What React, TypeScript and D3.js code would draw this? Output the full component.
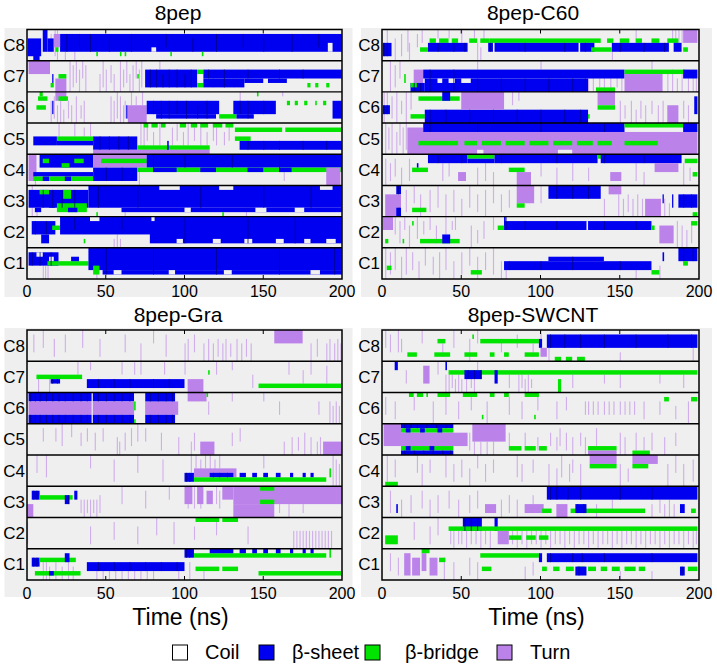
import React from 'react';
import * as d3 from 'd3';

type Seg = [number, number, number, number, string];
type Flick = [number, number, number];
type Streak = [number, number, number, number];

const timeTicks = [0, 50, 100, 150, 200];
const chainLabels = ['C8', 'C7', 'C6', 'C5', 'C4', 'C3', 'C2', 'C1'];
const panelTitles = ['8pep', '8pep-C60', '8pep-Gra', '8pep-SWCNT'];
const legendLabels = ['Coil', 'β-sheet', 'β-bridge', 'Turn'];
const legendStates = ['C', 'E', 'B', 'T'];
const LANES = 7;

// ---------- 8pep ----------
const pep8Segs: Seg[][] = [
  [[21,200,1,4,'E'],[0.5,9,2,5,'E'],[4,8,5,6,'E'],[10,13,0,4,'E'],[13,17,2,4,'E'],[17,21,1,3,'T'],[79,82,4,4,'C'],[191,194,3,4,'C'],
   [18,20,4,4,'B'],[44,45,5,5,'B'],[59,60,5,5,'B'],[62,63,5,5,'B'],[91,92,5,5,'B'],[111,112,5,5,'B']],
  [[1,14.6,0,2,'T'],[18,25,4,6,'T'],[20,25,3,3,'B'],[15,17,5,5,'B'],[16,16.8,3,4,'E'],[75,108,2,5,'E'],[108,112,2,2,'B'],[108,112,5,5,'B'],
   [112,200,2,3,'E'],[112,138,4,5,'E'],[138,150,4,4,'E'],[153,165,4,4,'E'],[70,71,3,3,'B'],[178,180,5,5,'B'],[183,185,5,5,'B'],[190,192,5,5,'B']],
  [[7,13,1,1,'B'],[8,10,0,0,'B'],[6,12,3,3,'B'],[18,25,0,1,'T'],[20,26,1,1,'B'],[16,16.8,2,4,'E'],[64,76,3,6,'T'],[63,63.8,3,5,'E'],
   [76,122,2,4,'E'],[82,120,5,5,'E'],[122,133,5,5,'B'],[131,158,2,4,'E'],[133,144,5,5,'E'],[165,167,2,2,'B'],[170,172,2,2,'B'],
   [176,178,2,2,'B'],[183,184,2,2,'B'],[188,190,2,2,'B'],[194,200,2,5,'E'],[146,147,0,0,'B']],
  [[4,19,3,4,'E'],[19,42,3,3,'B'],[19,42,4,4,'E'],[42,70,3,5,'E'],[70,116,5,5,'B'],[42,116,6,6,'T'],[89,90,4,5,'E'],
   [74,77,0,0,'B'],[79,83,0,0,'B'],[85,88,0,0,'B'],[97,101,0,0,'B'],[104,108,0,0,'B'],[110,115,0,0,'B'],[118,124,0,0,'B'],[126,131,0,0,'B'],
   [132,162,1,1,'B'],[164,200,1,1,'B'],[135,200,4,5,'E'],[132,142,3,3,'B']],
  [[1,6,0,5,'T'],[8,42,0,2,'E'],[10,14,1,1,'B'],[22,27,2,2,'B'],[30,36,1,1,'B'],[4,42,4,4,'E'],[4,42,5,5,'B'],[10,14,5,5,'E'],[24,28,5,5,'E'],
   [42,76,0,2,'T'],[47,76,1,1,'B'],[42,70,3,5,'E'],[76,200,0,2,'E'],[70,200,3,3,'B'],[80,95,3,3,'E'],[110,120,3,3,'E'],[140,150,3,3,'E'],
   [160,168,3,3,'E'],[190,199,3,6,'T']],
  [[1,39,1,4,'E'],[8,14,1,1,'B'],[23,28,1,2,'B'],[19,38,4,5,'B'],[5,9,5,5,'E'],[14,18,4,4,'E'],[26,32,5,5,'E'],[39,200,0,4,'E'],[60,200,5,5,'E'],
   [84,97,0,0,'C'],[122,131,0,0,'C'],[186,194,0,0,'C'],[100,104,5,5,'C'],[145,152,5,5,'C'],[170,176,5,5,'C'],[44,45,6,6,'B'],[124,125,6,6,'B']],
  [[3,18,1,3,'E'],[9,14,4,5,'E'],[16,21,2,2,'B'],[21,200,0,2,'E'],[21,80,3,3,'E'],[78,200,3,5,'E'],[40,46,0,0,'C'],[79,81,0,0,'C'],
   [95,99,5,5,'C'],[118,123,5,5,'C'],[138,143,5,5,'C'],[158,163,5,5,'C'],[176,180,5,5,'C'],[190,196,5,5,'C'],[36,37,5,5,'B']],
  [[1,20,1,3,'E'],[6,10,1,1,'C'],[14,17,2,2,'C'],[13,20,3,3,'B'],[20,39,3,3,'B'],[28,33,2,2,'E'],[39,200,0,4,'E'],[48,200,5,5,'E'],
   [42,46,4,5,'B'],[55,60,5,5,'C'],[90,94,5,5,'C'],[125,130,5,5,'C'],[180,186,5,5,'C']],
];
const pep8Flicks: Flick[][] = [
  [[15,1,4],[17.5,0,5],[19,0,6],[24,5,6],[30,5,6]],
  [[27,0,6],[29,1,5],[31,0,4],[33,2,6],[35,0,3],[37,1,6],[46,3,6],[48,0,5],[50,2,6],[53,1,4],[55,3,6],[59,0,6],[61,2,5],[63,0,4],
   [65,3,6],[67,1,6],[69,0,3],[71,2,6],[72.5,0,5],[84,0,1],[118,4,5],[131,4,5]],
  [[15,2,6],[17,1,5],[19,3,6],[21,2,6],[23,4,6],[26,2,5],[28,3,6],[31,1,6],[34,3,5],[36,2,6],[53,1,6],[55,2,6],[57,0,5],[59,1,6],
   [61,3,6],[62,2,5],[66,0,2],[69,1,2],[73,0,2],[135,0,1],[162,0,0]],
  [[72,0,4],[74,1,5],[76,0,3],[80,2,4],[84,0,4],[92,1,4],[95,0,3],[99,2,4],[102,0,4],[106,1,3],[110,0,4],[114,2,4],[118,0,3],[120,1,4],
   [125,2,4],[128,0,3],[20,0,2],[30,0,2],[36,1,2],[40,0,2]],
  [[71,4,6],[163,4,5],[5,6,6]],
  [[62,5,6],[139,5,6],[3,0,6],[6,5,6]],
  [[41,0,2],[43,0,2],[45,0,1],[55,5,6],[57,4,6],[59,5,6]],
  [[10,3,6],[11.5,4,6],[13,3,6],[44,5,6]],
];
const pep8Streaks: Streak[] = [
  [0,25,1,4],[0,33,1,3],[0,40,1,4],[0,52,2,4],[0,66,1,4],[0,88,1,3],[0,105,2,4],[0,120,1,4],[0,137,1,3],[0,150,2,4],[0,168,1,4],[0,185,1,3],
  [1,78,2,5],[1,82,2,5],[1,86,3,5],[1,90,2,5],[1,95,2,5],[1,100,3,5],[1,104,2,5],[1,115,2,3],[1,125,2,5],[1,140,2,3],[1,160,2,3],[1,175,2,3],
  [2,80,2,4],[2,85,2,5],[2,90,2,5],[2,95,2,4],[2,101,2,5],[2,108,3,5],[2,114,2,5],[2,135,2,4],[2,140,2,5],[2,150,2,4],
  [3,46,3,5],[3,52,3,5],[3,58,3,5],[3,64,3,5],[3,140,4,5],[3,150,4,5],[3,160,4,5],[3,175,4,5],[3,190,4,5],
  [4,50,3,5],[4,60,3,5],[4,80,0,2],[4,100,0,2],[4,130,0,2],[4,160,0,2],
  [5,10,1,4],[5,16,1,4],[5,22,1,4],[5,30,1,4],[5,45,0,4],[5,70,0,4],[5,110,0,4],[5,150,0,4],[5,180,0,4],
  [6,5,1,3],[6,12,1,3],[6,30,0,2],[6,60,0,2],[6,100,0,5],[6,140,0,5],[6,170,0,5],
  [7,3,1,3],[7,8,1,3],[7,15,1,3],[7,50,0,5],[7,80,0,5],[7,120,0,5],[7,160,0,5],[7,195,0,5],
];

// ---------- 8pep-C60 ----------
const c60Segs: Seg[][] = [
  [[0.5,6,3,5,'E'],[30,34,2,2,'B'],[36,42,2,2,'B'],[44,48,2,2,'B'],[55,60,2,2,'B'],[62,68,2,2,'B'],[68,138,2,2,'B'],[142,146,2,2,'B'],
   [150,156,2,2,'B'],[160,164,2,2,'B'],[170,175,2,2,'B'],[180,187,2,2,'B'],[29,54,3,4,'E'],[24,29,4,4,'B'],[67,70,3,4,'E'],[71,124,3,4,'E'],
   [125,134,3,4,'E'],[145,181,3,4,'E'],[184,189,3,4,'E'],[132,145,4,4,'B'],[190,193,4,4,'B'],[190,199,0,2,'T']],
  [[20,26,2,4,'T'],[14,15,3,4,'B'],[18,27,5,6,'E'],[18,22,5,5,'B'],[26,153,2,3,'E'],[27,130,4,6,'E'],[35,38,4,4,'C'],[42,46,4,4,'C'],
   [50,56,4,4,'C'],[153,191,2,2,'B'],[153,177,3,6,'T'],[135,147,6,6,'B'],[190,199,2,3,'E']],
  [[23,49,1,1,'B'],[38,43,0,1,'E'],[0.5,5,3,4,'E'],[18,27,5,5,'B'],[27,130,4,6,'E'],[50,77,0,3,'T'],[136,147,0,2,'T'],[136,147,3,3,'B'],
   [180,187,3,6,'T'],[197,199,1,4,'E'],[130,131,5,5,'B']],
  [[16,199,2,6,'T'],[16,26,1,1,'T'],[26,153,0,1,'E'],[23,48,4,4,'B'],[52,60,4,4,'B'],[63,75,4,4,'B'],[78,90,4,4,'B'],[93,105,4,4,'B'],
   [108,120,4,4,'B'],[123,133,4,4,'B'],[136,145,4,4,'B'],[153,174,4,4,'B'],[153,191,0,0,'B'],[190,199,0,1,'E'],[111,120,6,6,'C'],[60,64,6,6,'C']],
  [[29,54,0,1,'E'],[54,71,0,0,'B'],[54,71,1,1,'E'],[71,136,0,1,'E'],[136,140,0,0,'B'],[138,189,0,1,'E'],[191,199,1,1,'B'],[19,29,3,3,'B'],
   [80,90,3,3,'B'],[196,199,4,4,'B'],[48,53,4,5,'T'],[85,94,4,6,'T'],[144,151,4,5,'T'],[172,187,2,3,'T'],[22,23,2,2,'E']],
  [[9,12,0,1,'E'],[2,12,2,6,'T'],[9,12,5,6,'E'],[19,28,5,5,'B'],[85,96,0,3,'T'],[85,90,4,4,'B'],[105,138,0,2,'E'],[143,151,0,1,'T'],
   [166,176,3,6,'T'],[187,199,2,4,'E'],[177,177.8,2,3,'E'],[183,183.8,2,4,'E'],[196,199,6,6,'B']],
  [[0.5,7,0,2,'T'],[24,49,5,5,'B'],[38,43,4,5,'E'],[77,170,1,2,'E'],[129,130,1,2,'C'],[73,77,2,2,'B'],[170,172,2,2,'B'],[77,78,0,1,'E'],
   [175,184,2,5,'T'],[195,199,1,1,'B'],[19,20,1,1,'B'],[13,14,5,5,'B'],[2,4,5,5,'B']],
  [[77,170,3,4,'E'],[105,140,2,2,'E'],[56,63,5,5,'B'],[170,175,5,5,'B'],[187,199,0,2,'E'],[3,6,4,4,'B'],[177,178,1,2,'E'],[190,193,3,3,'B']],
];
const c60Flicks: Flick[][] = [
  [[3,0,4],[8,2,6],[12,1,5],[16,0,4],[17,3,6],[22,1,3],[25,0,2],[35,0,1],[42,0,1],[50,0,2],[58,0,1],[60,3,6],[62,4,6],[64,0,2],
   [183,0,2],[185,0,2],[187,0,2],[189,0,2],[160,0,1],[145,5,6]],
  [[130,4,6],[133,3,6],[137,4,5],[140,3,6],[144,4,6],[148,3,5],[151,4,6],[180,3,6],[183,2,6],[186,4,6],[189,3,6],[193,4,6],[196,2,6],
   [198,4,6],[5,0,6],[8,1,5],[11,0,3],[60,0,1],[100,0,1],[170,0,1]],
  [[1,0,6],[3,0,2],[6,1,5],[9,0,6],[12,2,4],[15,0,6],[18,0,3],[150,2,6],[153,3,5],[157,2,6],[160,4,6],[163,2,5],[166,3,6],[170,2,4],
   [174,3,6],[177,2,6],[190,2,5],[193,3,6],[82,0,2],[86,0,1]],
  [[2,0,6],[4,1,5],[6,0,6],[9,2,6],[11,0,4],[13,1,6],[15,0,5]],
  [[2,1,6],[5,2,5],[8,1,4],[12,3,6],[17,1,5],[38,2,5],[42,1,4],[60,3,6],[65,2,5],[70,4,6],[100,2,4],[110,3,6],[120,2,5],[130,3,5],
   [160,2,5],[165,4,6],[190,2,6],[194,3,5]],
  [[15,1,5],[20,0,3],[24,2,6],[30,1,5],[35,0,4],[40,2,6],[45,1,5],[50,3,6],[55,0,4],[60,2,5],[65,1,6],[70,0,3],[75,2,5],[80,1,4],
   [100,0,3],[140,3,6],[149,2,6],[152,3,6],[155,2,5],[158,3,6],[161,2,6],[164,3,6],[178,3,6],[181,4,6]],
  [[8,0,3],[11,1,5],[14,0,2],[17,2,6],[22,0,4],[26,1,3],[30,0,2],[34,2,5],[40,0,3],[44,1,2],[46,0,2],[56,2,6],[60,3,5],[64,1,4],
   [70,0,2],[186,1,6],[189,2,6],[192,3,6],[195,2,5]],
  [[2,0,6],[5,1,5],[8,0,4],[12,2,6],[15,0,5],[19,1,4],[23,3,6],[27,0,3],[32,2,5],[36,1,6],[40,0,4],[45,3,6],[50,1,5],[55,0,3],
   [60,2,6],[65,1,4],[70,0,5],[75,3,6],[78,4,6],[160,5,6],[175,4,6]],
];
const c60Streaks: Streak[] = [
  [0,1,3,5],[0,3,3,5],[0,35,3,4],[0,45,3,4],[0,52,3,4],[0,68,3,4],[0,90,3,4],[0,115,3,4],[0,128,3,4],[0,150,3,4],[0,165,3,4],[0,178,3,4],
  [1,20,5,6],[1,24,5,6],[1,30,2,6],[1,45,2,6],[1,60,4,6],[1,75,4,6],[1,90,4,6],[1,105,4,6],[1,120,4,6],[1,128,4,6],
  [2,1,3,4],[2,3,3,4],[2,30,4,6],[2,40,4,6],[2,55,4,6],[2,70,4,6],[2,85,4,6],[2,100,4,6],[2,115,4,6],[2,125,4,6],
  [3,30,0,1],[3,60,0,1],[3,100,0,1],[3,140,0,1],
  [4,35,0,1],[4,50,0,1],[4,75,0,1],[4,110,0,1],[4,140,0,1],[4,165,0,1],
  [5,10,0,1],[5,10.5,5,6],[5,110,0,2],[5,120,0,2],[5,130,0,2],[5,190,2,4],[5,195,2,4],
  [6,78,0,2],[6,90,1,2],[6,110,1,2],[6,140,1,2],[6,160,1,2],
  [7,80,3,4],[7,100,3,4],[7,120,2,4],[7,150,3,4],[7,190,0,2],[7,196,0,2],
];

// ---------- 8pep-Gra ----------
const graSegs: Seg[][] = [
  [[157,175,0,2,'T']],
  [[6,35,3,3,'B'],[15,21,4,4,'E'],[38,100,4,5,'E'],[102,112,4,6,'T'],[147,200,5,5,'B'],[115,116,2,2,'B']],
  [[1,68,0,1,'E'],[1,96,2,4,'T'],[1,68,5,6,'E'],[75,94,0,1,'E'],[75,94,5,6,'E'],[41,41.8,0,6,'C'],[68,75,0,6,'C'],[68,69,2,3,'B'],
   [68,69,6,6,'B'],[102,114,0,1,'T'],[114,115,0,0,'B']],
  [[110,119,4,6,'T'],[188,200,4,6,'T']],
  [[100,106,4,5,'E'],[106,133,3,4,'T'],[116,131,4,4,'E'],[135,139,4,4,'E'],[143,146,4,4,'E'],[150,153,4,4,'E'],[158,161,4,4,'E'],
   [167,169,4,4,'E'],[175,177,4,4,'E'],[180,182,4,4,'E'],[106,190,5,5,'B'],[192,193,3,4,'B']],
  [[3,8,1,2,'E'],[8,29,2,2,'B'],[24,27,2,3,'E'],[30,32,1,2,'E'],[0,4,4,6,'T'],[100,105,0,3,'T'],[108,112,0,3,'T'],[114,118,1,3,'T'],
   [124,131,0,2,'T'],[131,200,0,3,'T'],[131,157,4,6,'T'],[148,157,0,0,'B'],[148,157,3,3,'B']],
  [[107,122,0,0,'B'],[124,134,0,0,'B']],
  [[3,8,2,3,'E'],[8,31,2,2,'B'],[24,27,1,2,'E'],[5,34,5,5,'B'],[14,17,5,5,'E'],[38,100,3,4,'E'],[100,106,0,1,'E'],[106,190,1,1,'B'],
   [116,131,0,0,'E'],[135,139,0,0,'E'],[143,146,0,0,'E'],[150,153,0,0,'E'],[158,161,0,0,'E'],[167,169,0,0,'E'],[175,177,0,0,'E'],
   [180,182,0,0,'E'],[107,122,4,4,'B'],[124,134,4,4,'B'],[147,200,5,5,'B'],[192,193,0,1,'B']],
];
const graFlicks: Flick[][] = [
  [[4,1,4],[10,0,3],[17,2,5],[24,1,4],[35,0,3],[46,2,5],[62,1,4],[72,3,6],[80,0,2],[88,1,5],[100,3,6],[102,2,6],[106,1,4],[112,3,6],
   [115,2,6],[118,3,6],[121,2,5],[124,3,6],[126,2,6],[129,3,5],[133,2,6],[136,3,6],[139,2,5],[142,3,6],[180,3,6],[184,2,5],[190,3,6],
   [192,2,6],[195,3,6],[197,2,6],[199,3,6]],
  [[7,4,6],[14,4,6],[32,0,2],[40,0,1],[60,0,2],[68,0,2],[72,0,2],[87,0,2],[100,0,2],[120,0,2],[130,0,1],[143,3,5],[166,0,2],[175,2,4],
   [180,0,2],[190,1,4]],
  [[69,2,6],[70.5,2,5],[72,2,6],[73.5,3,5],[192,2,6],[194,3,6],[196,2,6],[198,3,6],[150,0,1],[160,2,4],[185,2,4],[115,2,4],[130,0,1]],
  [[10,1,3],[18,1,3],[22,0,4],[28,0,2],[34,2,4],[38,1,3],[43,2,5],[48,1,3],[57,3,6],[58.5,4,6],[62,2,5],[66,1,4],[70,0,3],[75,1,3],
   [85,2,5],[96,3,6],[104,4,6],[106,2,5],[130,2,4],[135,1,3],[163,4,6],[168,3,6],[172,3,5],[176,2,6],[180,3,6],[184,4,6],[186,3,6]],
  [[104,0,3],[107,0,2],[110,1,3],[113,0,2],[116,0,3],[119,1,3],[122,0,2],[6,0,3],[12,0,4],[40,0,2],[55,1,5],[70,0,3],[86,1,5],
   [150,0,2],[194,0,6],[196,1,6],[198,2,6]],
  [[34,3,5],[36,3,6],[38,3,5],[40,3,6],[42,3,5],[44,3,6],[46,2,5],[60,0,3],[75,1,4],[90,0,2],[102,0,4],[106,0,4],[110,1,4],[120,0,3],
   [122,1,4],[160,4,5],[166,4,6],[175,4,5]],
  [[40,2,5],[55,1,4],[70,2,5],[82,0,3],[93,1,5],[106,2,4],[120,1,3],[140,2,5],[169,3,6],[171,3,6],[173,3,6],[175,3,6],[177,3,6],
   [179,3,6],[181,3,6],[183,3,6],[185,3,6],[187,3,6],[189,3,6],[191,3,6],[193,3,6],[0,1,5]],
  [[10,3,6],[12,3,6],[14,4,6],[18,3,6],[22,4,6],[26,3,6],[29,4,6],[44,5,6],[48,5,6],[52,5,6],[56,5,6],[60,5,6],[64,5,6],[68,5,6],
   [72,5,6],[76,5,6],[80,5,6],[96,5,6],[103,3,6],[112,5,6]],
];
const graStreaks: Streak[] = [
  [1,16,4,4],[1,19,4,4],[1,45,4,5],[1,55,4,5],[1,65,4,5],[1,80,4,5],[1,90,4,5],
  [2,2,0,1],[2,5,0,1],[2,8,0,1],[2,12,0,1],[2,16,0,1],[2,20,0,1],[2,24,0,1],[2,29,0,1],[2,34,0,1],[2,38,0,1],[2,45,0,1],[2,50,0,1],
  [2,55,0,1],[2,60,0,1],[2,65,0,1],[2,78,0,1],[2,83,0,1],[2,88,0,1],[2,92,0,1],
  [2,2,5,6],[2,5,5,6],[2,8,5,6],[2,12,5,6],[2,16,5,6],[2,20,5,6],[2,24,5,6],[2,29,5,6],[2,34,5,6],[2,38,5,6],[2,45,5,6],[2,50,5,6],
  [2,55,5,6],[2,60,5,6],[2,65,5,6],[2,78,5,6],[2,83,5,6],[2,88,5,6],[2,92,5,6],
  [4,101,4,5],[4,103,4,5],[4,118,4,4],[4,122,4,4],[4,127,4,4],
  [5,4,1,2],[5,6,1,2],[5,26,2,3],
  [7,4,2,3],[7,6,2,3],[7,45,3,4],[7,55,3,4],[7,65,3,4],[7,75,3,4],[7,85,3,4],[7,95,3,4],[7,101,0,1],[7,103,0,1],
];

// ---------- 8pep-SWCNT ----------
const swcntSegs: Seg[][] = [
  [[62,99,2,2,'B'],[99,101,2,3,'E'],[104,199,1,3,'E'],[16,22,5,5,'B'],[33,43,5,5,'B'],[52,60,5,5,'B'],[68,71,5,5,'B'],[77,80,5,5,'B'],
   [90,99,5,5,'B'],[109,113,6,6,'B'],[116,120,6,6,'B'],[123,128,6,6,'B'],[35,40,2,2,'B'],[57,58,1,1,'B'],[100,104,4,5,'T']],
  [[8,10,0,1,'E'],[26,30,1,4,'T'],[42,199,2,2,'B'],[52,63,2,3,'E'],[71,73,2,4,'E'],[111,113,4,6,'B'],[40,41,0,1,'E']],
  [[17,20,0,0,'B'],[22,26,0,0,'B'],[28,29,0,0,'B'],[35,43,0,0,'B'],[51,60,0,0,'B'],[68,71,0,0,'B'],[77,80,0,0,'B'],[90,99,0,0,'B'],
   [178,181,1,1,'B'],[195,199,1,1,'B'],[63,64,5,5,'B'],[96,97,5,5,'B']],
  [[1,12,0,4,'T'],[12,45,0,0,'E'],[12,45,1,1,'B'],[15,18,1,1,'E'],[24,27,1,1,'E'],[35,38,1,1,'E'],[12,54,2,4,'T'],[12,45,5,5,'B'],
   [12,45,6,6,'E'],[15,18,5,5,'E'],[30,33,5,5,'E'],[57,78,0,3,'T'],[80,88,5,5,'B'],[90,97,5,5,'B'],[99,104,5,5,'B'],[130,148,5,5,'B'],
   [130,148,6,6,'T'],[158,169,6,6,'B']],
  [[131,148,0,1,'T'],[131,148,2,2,'B'],[158,174,0,1,'T'],[158,168,2,2,'B'],[2,10,6,6,'B']],
  [[104,199,0,2,'E'],[65,72,4,5,'T'],[90,102,4,5,'T'],[110,117,4,6,'T'],[101,107,5,5,'B'],[119,166,5,5,'B'],[122,129,4,5,'E'],
   [188,191,4,5,'E'],[9,10,4,5,'E'],[195,198,5,5,'B']],
  [[51,63,0,2,'E'],[71,73,0,2,'E'],[42,199,2,2,'B'],[2,10,4,5,'B'],[80,88,4,4,'B'],[91,97,4,4,'B'],[99,105,4,4,'B'],[73,80,3,5,'T']],
  [[14,18,1,5,'T'],[19,24,2,5,'T'],[25,28,1,4,'T'],[30,35,2,5,'T'],[25,30,0,0,'B'],[36,40,2,2,'B'],[62,99,1,1,'B'],[99,101,1,2,'E'],
   [104,199,1,2,'E'],[101,104,4,4,'B'],[108,112,4,4,'B'],[116,121,4,4,'B'],[123,128,4,4,'B'],[130,135,4,4,'B'],[138,142,4,4,'B'],
   [145,150,4,4,'B'],[153,160,4,4,'B'],[162,166,4,4,'B'],[122,129,4,5,'E'],[188,191,4,5,'E'],[193,199,4,4,'B'],[63,69,4,4,'B']],
];
const swcntFlicks: Flick[][] = [
  [[2,0,3],[5,1,4],[10,0,4],[12,2,4],[25,0,2],[38,3,5],[45,0,3],[55,2,6],[60,0,2],[75,2,4],[85,1,3],[95,3,5],[100,0,3],[105,4,6],
   [150,5,6],[196,4,6]],
  [[40,3,6],[42,3,6],[44,3,5],[46,4,6],[48,3,6],[50,4,6],[53,4,6],[56,3,5],[58,4,6],[86,3,6],[88,3,5],[90,4,6],[92,3,6],[94,4,5],
   [15,2,4],[35,0,2],[60,0,1],[80,3,5],[120,3,5],[140,3,4],[150,3,5],[175,3,4],[190,3,5]],
  [[2,1,4],[8,2,5],[20,1,3],[32,2,6],[40,1,4],[48,2,5],[56,1,3],[66,2,6],[80,1,4],[88,2,5],[98,1,3],[110,2,5],[116,1,3],[128,2,4],
   [130,2,4],[133,2,4],[136,2,4],[140,2,4],[143,2,4],[146,2,4],[150,2,4],[153,2,4],[156,2,4],[159,2,4],[165,2,5],[175,2,4],[185,3,5],
   [193,2,6]],
  [[55,2,5],[58,4,6],[62,4,6],[66,4,6],[70,4,6],[80,2,4],[90,2,4],[98,3,5],[106,2,4],[110,3,5],[112,1,4],[116,2,5],[120,3,6],
   [125,2,4],[128,3,6],[135,1,4],[150,2,6],[153,3,6],[160,2,5],[165,3,5],[170,2,5],[178,3,6],[185,2,4]],
  [[3,0,5],[8,1,4],[22,0,3],[25,2,6],[30,1,3],[40,0,4],[45,2,5],[50,1,4],[55,3,6],[60,0,2],[65,2,5],[70,1,3],[85,0,4],[88,2,5],
   [95,1,3],[105,2,6],[110,3,6],[113,0,4],[118,2,5],[120,1,3],[125,2,6],[150,2,6],[155,3,5],[180,2,6],[185,0,3],[190,2,6],[196,1,5]],
  [[5,1,5],[12,3,6],[18,2,5],[25,1,4],[30,3,6],[35,2,5],[42,1,4],[48,3,6],[55,2,5],[60,1,4],[75,3,6],[80,2,5],[85,3,6],[95,2,4],
   [135,4,6],[145,3,5],[170,4,6],[175,3,5],[178,4,6],[181,3,6],[184,4,6]],
  [[43,3,5],[45,3,6],[48,3,5],[50,3,5],[53,3,6],[56,3,5],[59,3,5],[62,3,6],[65,3,5],[68,3,6],[82,3,5],[85,3,6],[88,3,5],[91,3,6],
   [94,3,5],[97,3,5],[100,3,6],[103,3,5],[106,3,6],[109,3,5],[112,3,5],[115,3,6],[118,3,5],[121,3,6],[124,3,5],[127,3,5],[130,3,6],
   [133,3,5],[136,3,6],[139,3,5],[142,3,5],[145,3,6],[148,3,5],[151,3,6],[154,3,5],[157,3,5],[160,3,6],[163,3,5],[166,3,6],[169,3,5],
   [172,3,5],[175,3,6],[178,3,5],[181,3,6],[184,3,5],[187,3,5],[190,3,6],[193,3,5],[196,3,6],[198,3,5],[20,1,4],[30,2,5],[35,0,3]],
  [[5,1,4],[10,2,5],[39,2,6],[45,3,6],[55,2,5],[60,3,6],[90,4,6],[95,3,5],[150,5,6],[170,5,6]],
];
const swcntStreaks: Streak[] = [
  [0,106,1,3],[0,115,1,3],[0,125,1,3],[0,140,1,3],[0,160,1,3],[0,180,1,3],[0,195,1,3],
  [1,54,2,3],[1,58,2,3],[1,62,2,3],
  [3,14,0,0],[3,18,0,0],[3,22,0,0],[3,28,0,0],[3,34,0,0],[3,40,0,0],[3,14,6,6],[3,20,6,6],[3,26,6,6],[3,32,6,6],[3,38,6,6],[3,43,6,6],
  [5,106,0,2],[5,110,0,2],[5,117,0,2],[5,125,0,2],[5,150,0,2],[5,170,0,2],[5,123,4,5],[5,127,4,5],
  [6,52,0,2],[6,56,0,2],[6,60,0,2],
  [7,106,1,2],[7,120,1,2],[7,126,1,2],[7,140,1,2],[7,170,1,2],[7,124,4,5],[7,189,4,5],
];

const panelSegs = [pep8Segs, c60Segs, graSegs, swcntSegs];
const panelFlicks = [pep8Flicks, c60Flicks, graFlicks, swcntFlicks];
const panelStreaks = [pep8Streaks, c60Streaks, graStreaks, swcntStreaks];

const COLORS: Record<string, string> = {
  C: '#efefef',
  E: '#0000f0',
  B: '#00e400',
  T: '#bb82ea',
  D: '#000080',
};
const FONT = '"Liberation Sans", Arial, Helvetica, sans-serif';

const layouts = [
  { x0: 27, x1: 342, y0: 29.5, y1: 279, bgX: 4.5, bgW: 348, bgY: 28, bgH: 269, titleX: 178, titleY: 19.5, tickY: 296.5, axisLabel: false },
  { x0: 382, x1: 699, y0: 29.5, y1: 279, bgX: 361, bgW: 351, bgY: 28, bgH: 269, titleX: 533, titleY: 19.5, tickY: 296.5, axisLabel: false },
  { x0: 27, x1: 342, y0: 330, y1: 580, bgX: 4.5, bgW: 348, bgY: 328, bgH: 269, titleX: 178, titleY: 321.5, tickY: 599, axisLabel: true },
  { x0: 382, x1: 699, y0: 330, y1: 580, bgX: 361, bgW: 351, bgY: 328, bgH: 269, titleX: 533, titleY: 321.5, tickY: 599, axisLabel: true },
];

const legendBoxX = [172.5, 259, 365, 497];
const legendTextX = [205, 292, 405, 530];

function Panel({ idx }: { idx: number }) {
  const L = layouts[idx];
  const x = d3.scaleLinear().domain([0, 200]).range([L.x0, L.x1]);
  const yBand = d3.scaleBand<string>().domain(chainLabels).range([L.y0, L.y1]).padding(0);
  const bw = yBand.bandwidth();
  const lane = d3.scaleLinear().domain([0, LANES]).range([0, bw]);
  const segs = panelSegs[idx];
  const flicks = panelFlicks[idx];
  const streaks = panelStreaks[idx];
  return (
    <g>
      <rect x={L.bgX} y={L.bgY} width={L.bgW} height={L.bgH} fill="#efefef" />
      <text x={L.titleX} y={L.titleY} textAnchor="middle" fontFamily={FONT} fontSize={21}>{panelTitles[idx]}</text>
      {chainLabels.map((c, ci) => {
        const top = yBand(c)!;
        return (
          <g key={c}>
            {flicks[ci].map((f, fi) => (
              <rect key={'f' + fi} x={x(f[0])} y={top + lane(f[1])} width={Math.max(1, x(f[0] + 0.7) - x(f[0]))}
                height={lane(f[2] + 1) - lane(f[1])} fill={COLORS.T} opacity={0.6} />
            ))}
            {segs[ci].map((s, si) => (
              <rect key={'s' + si} x={x(s[0])} y={top + lane(s[2])} width={Math.max(1, x(s[1]) - x(s[0]))}
                height={lane(s[3] + 1) - lane(s[2])} fill={COLORS[s[4]]} />
            ))}
            {streaks.filter((d) => d[0] === ci).map((d, di) => (
              <rect key={'d' + di} x={x(d[1])} y={top + lane(d[2])} width={1}
                height={lane(d[3] + 1) - lane(d[2])} fill={COLORS.D} opacity={0.75} />
            ))}
            <text x={L.x0 - 2} y={top + bw / 2 + 6} textAnchor="end" fontFamily={FONT} fontSize={17}>{c}</text>
          </g>
        );
      })}
      {chainLabels.slice(1).map((c) => (
        <line key={'l' + c} x1={L.x0} x2={L.x1} y1={yBand(c)!} y2={yBand(c)!} stroke="#000" strokeWidth={1.4} />
      ))}
      {timeTicks.slice(1, -1).map((t) => (
        <g key={'t' + t}>
          <line x1={x(t)} x2={x(t)} y1={L.y0} y2={L.y0 + 4} stroke="#000" strokeWidth={1} />
          <line x1={x(t)} x2={x(t)} y1={L.y1} y2={L.y1 - 4} stroke="#000" strokeWidth={1} />
        </g>
      ))}
      <rect x={L.x0} y={L.y0} width={L.x1 - L.x0} height={L.y1 - L.y0} fill="none" stroke="#000" strokeWidth={1.5} />
      {timeTicks.map((t) => (
        <text key={'tl' + t} x={x(t)} y={L.tickY} textAnchor="middle" fontFamily={FONT} fontSize={16}>{t}</text>
      ))}
      {L.axisLabel && (
        <text x={(L.x0 + L.x1) / 2 - 4} y={625} textAnchor="middle" fontFamily={FONT} fontSize={23}>Time (ns)</text>
      )}
    </g>
  );
}

export default function App() {
  return (
    <svg width={717} height={667} viewBox="0 0 717 667" style={{ display: 'block', position: 'absolute', left: 0, top: 0, background: '#fff' }}>
      {[0, 1, 2, 3].map((i) => <Panel key={i} idx={i} />)}
      {legendLabels.map((lab, i) => (
        <g key={lab}>
          <rect x={legendBoxX[i]} y={645} width={15} height={15}
            fill={legendStates[i] === 'C' ? '#ffffff' : COLORS[legendStates[i]]} stroke="#000" strokeWidth={1} />
          <text x={legendTextX[i]} y={659} fontFamily={FONT} fontSize={20}>{lab}</text>
        </g>
      ))}
    </svg>
  );
}
